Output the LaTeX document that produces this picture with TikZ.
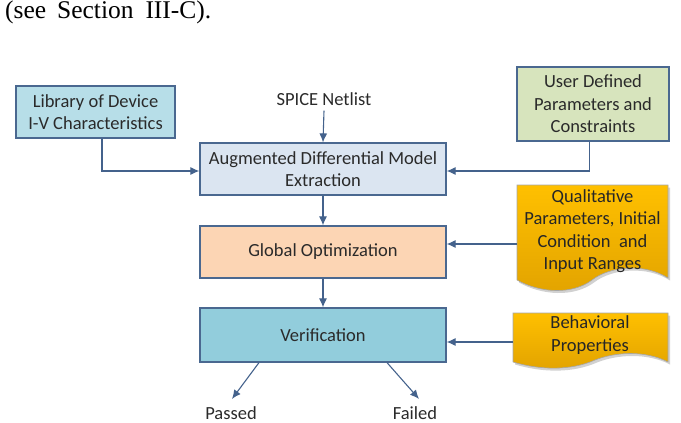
\documentclass[tikz,border=0pt]{standalone}
\usepackage{fontspec}
\setmainfont{Carlito}
\newfontfamily\hdrfont{Liberation Serif}
\usetikzlibrary{arrows.meta}
\definecolor{bordc}{HTML}{4A6890}
\definecolor{arrc}{HTML}{44628C}
\definecolor{txtc}{HTML}{2A2A2A}
\definecolor{libfill}{HTML}{B7DEE8}
\definecolor{augfill}{HTML}{DBE5F1}
\definecolor{userfill}{HTML}{D7E4BD}
\definecolor{globfill}{HTML}{FCD5B4}
\definecolor{verfill}{HTML}{92CDDC}
\definecolor{goldtop}{HTML}{FFC000}
\definecolor{goldbot}{HTML}{E2A300}
\tikzset{
  box/.style={draw=bordc, line width=1.2pt, align=center, text=txtc, inner sep=0pt,
    font=\fontsize{18.5}{22.5}\selectfont},
  lbl/.style={text=txtc, inner sep=0pt, align=center, font=\fontsize{18.5}{22.5}\selectfont},
  arr/.style={draw=arrc, line width=1.1pt, -{Latex[length=9pt,width=8pt]}},
  docborder/.style={draw=gray!70, line width=0.6pt},
  docshadow/.style={fill=black, opacity=0.18},
}
\begin{document}
\begin{tikzpicture}[x=1pt,y=-1pt]
\useasboundingbox (0,0) rectangle (681,423);
% header text
\node[anchor=base west, inner sep=0pt, font=\hdrfont\fontsize{25.5}{30}\selectfont] (hdr) at (5,19) {(see\hspace{4.5pt} Section\hspace{5.5pt} III-C).};
% boxes
\node[box, fill=libfill, minimum width=159pt, minimum height=52pt] (lib) at (95.5,112) {Library of Device\\I-V Characteristics};
\node[lbl] (spice) at (324,99) {SPICE Netlist};
\node[box, fill=augfill, minimum width=246pt, minimum height=52pt] (aug) at (323,169) {Augmented Differential Model\\Extraction};
\node[box, fill=userfill, minimum width=152pt, minimum height=74pt] (user) at (593,104) {User Defined\\Parameters and\\Constraints};
\node[box, fill=globfill, minimum width=246pt, minimum height=52pt] (glob) at (323,252) {Global Optimization};
\node[box, fill=verfill, minimum width=246pt, minimum height=54pt] (ver) at (323,335) {Verification};
% document shapes
\def\qualpath{(517,185) -- (668,185) -- (668,278) .. controls (645,263) and (610,266) .. (592,280) .. controls (572,295) and (540,293) .. (517,280) -- cycle}
\def\behpath{(513,313) -- (668,313) -- (668,362) .. controls (645,350) and (615,352) .. (595,360) .. controls (570,371) and (540,370) .. (513,362) -- cycle}
\begin{scope}[xshift=2pt, yshift=-2.5pt]
  \fill[docshadow] \qualpath;
  \fill[docshadow] \behpath;
\end{scope}
\shade[top color=goldtop, bottom color=goldbot] \qualpath;
\draw[docborder] \qualpath;
\shade[top color=goldtop, bottom color=goldbot] \behpath;
\draw[docborder] \behpath;
\node[lbl, text=black!85] (qual) at (592.5,231) {Qualitative\\Parameters, Initial\\Condition\ \ and\\Input Ranges};
\node[lbl, text=black!85] (beh) at (590,335) {Behavioral\\Properties};
\coordinate (qualL) at (517,244);
\coordinate (behL) at (513,342);
% outcomes
\node[lbl, anchor=base] (passed) at (231,419) {Passed};
\node[lbl, anchor=base] (failed) at (415,419) {Failed};
% connectors
\draw[arr] (spice.south) ++(0,5) -- (aug.north);
\draw[arr] ([xshift=6.5pt]lib.south) |- ([yshift=-2pt]aug.west);
\draw[arr] ([xshift=-3.5pt]user.south) |- ([yshift=-2pt]aug.east);
\draw[arr] (aug.south) -- (glob.north);
\draw[arr] (qualL) -- ([yshift=8pt]glob.east);
\draw[arr] (glob.south) -- (ver.north);
\draw[arr] (behL) -- ([yshift=-7pt]ver.east);
\draw[arr] ([xshift=-64pt]ver.south) -- ([xshift=1pt,yshift=7pt]passed.north);
\draw[arr] ([xshift=64pt]ver.south) -- ([xshift=4pt,yshift=7pt]failed.north);
\end{tikzpicture}
\end{document}
